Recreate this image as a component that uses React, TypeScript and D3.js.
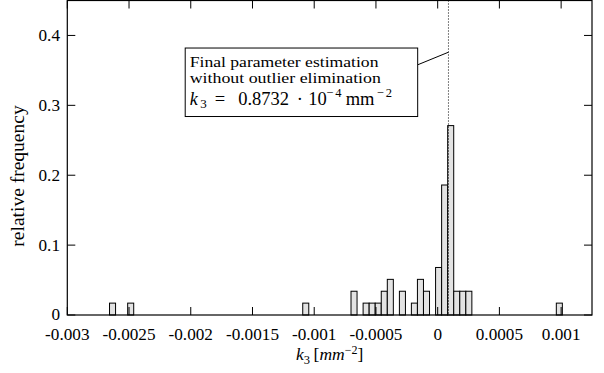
import React, { useEffect, useRef } from "react";
import * as d3 from "d3";

// histogram bins (left edge of each bin, in mm^-2) and relative frequencies
const binStarts = [
  -0.002658, -0.002511, -0.001093, -0.000702, -0.000604, -0.000555, -0.000506,
  -0.000457, -0.000408, -0.00031, -0.000213, -0.000164, -0.000115, -0.000017,
  0.000032, 0.000081, 0.00013, 0.000179, 0.000228, 0.000961
];
const frequencies = [
  0.017, 0.017, 0.017, 0.034, 0.017, 0.017, 0.017,
  0.034, 0.051, 0.034, 0.017, 0.051, 0.034, 0.068,
  0.186, 0.271, 0.034, 0.034, 0.034, 0.017
];
const binWidth = 0.0000489;

const xTicks = [-0.003, -0.0025, -0.002, -0.0015, -0.001, -0.0005, 0, 0.0005, 0.001];
const yTicks = [0, 0.1, 0.2, 0.3, 0.4];

const k3 = 0.00008732;
const annotationLines = ["Final parameter estimation", "without outlier elimination"];

const width = 604;
const height = 373;
const FONT = "Liberation Serif";

export default function App() {
  const svgRef = useRef<SVGSVGElement | null>(null);

  useEffect(() => {
    const svg = d3.select(svgRef.current);
    svg.selectAll("*").remove();
    svg.attr("font-family", FONT);

    const x = d3.scaleLinear().domain([-0.003, 0.00125]).range([67.3, 592]);
    const y = d3.scaleLinear().domain([0, 0.45]).range([315, 0.5]);
    const [x0, x1] = x.range();
    const [y0, y1] = y.range();
    const tick = 8;

    const data = binStarts.map((s, i) => ({ start: s, value: frequencies[i] }));

    // bars
    svg.append("g")
      .selectAll("rect")
      .data(data)
      .enter()
      .append("rect")
      .attr("x", (d) => x(d.start))
      .attr("y", (d) => y(d.value))
      .attr("width", (d) => x(d.start + binWidth) - x(d.start))
      .attr("height", (d) => y(0) - y(d.value))
      .attr("fill", "#e3e3e3")
      .attr("stroke", "#000")
      .attr("stroke-width", 1);

    // dotted line at the final estimate
    svg.append("line")
      .attr("x1", x(k3)).attr("x2", x(k3))
      .attr("y1", y1).attr("y2", y0)
      .attr("stroke", "#000")
      .attr("stroke-width", 1)
      .attr("stroke-dasharray", "1,2");

    // frame
    svg.append("rect")
      .attr("x", x0).attr("y", y1)
      .attr("width", x1 - x0).attr("height", y0 - y1)
      .attr("fill", "none")
      .attr("stroke", "#000")
      .attr("stroke-width", 1.2);

    // ticks (inward, mirrored)
    const g = svg.append("g").attr("stroke", "#000").attr("stroke-width", 1);
    xTicks.forEach((t) => {
      g.append("line").attr("x1", x(t)).attr("x2", x(t)).attr("y1", y0).attr("y2", y0 - tick);
      g.append("line").attr("x1", x(t)).attr("x2", x(t)).attr("y1", y1).attr("y2", y1 + tick);
    });
    yTicks.forEach((t) => {
      g.append("line").attr("x1", x0).attr("x2", x0 + tick).attr("y1", y(t)).attr("y2", y(t));
      g.append("line").attr("x1", x1).attr("x2", x1 - tick).attr("y1", y(t)).attr("y2", y(t));
    });

    // tick labels
    svg.append("g")
      .selectAll("text")
      .data(xTicks)
      .enter()
      .append("text")
      .attr("x", (d) => x(d))
      .attr("y", 339.5)
      .attr("text-anchor", "middle")
      .attr("font-size", 17.2)
      .text((d) => (d === 0 ? "0" : String(d)));

    svg.append("g")
      .selectAll("text")
      .data(yTicks)
      .enter()
      .append("text")
      .attr("x", 60)
      .attr("y", (d) => y(d) + (d === 0 ? 4.5 : 6))
      .attr("text-anchor", "end")
      .attr("font-size", 17.2)
      .text((d) => (d === 0 ? "0" : d.toFixed(1)));

    // axis titles
    const xl = svg.append("text")
      .attr("x", (x0 + x1) / 2)
      .attr("y", 359.5)
      .attr("text-anchor", "middle")
      .attr("font-size", 17.5);
    xl.append("tspan").attr("font-style", "italic").text("k");
    xl.append("tspan").attr("dy", 4).attr("font-size", 12.5).text("3");
    xl.append("tspan").attr("dy", -4).text("\u2009[");
    xl.append("tspan").attr("font-style", "italic").text("mm");
    xl.append("tspan").attr("dy", -5.5).attr("font-size", 12).text("\u22122");
    xl.append("tspan").attr("dy", 5.5).text("]");

    svg.append("text")
      .attr("transform", `translate(24, 176) rotate(-90)`)
      .attr("text-anchor", "middle")
      .attr("font-size", 19.5)
      .text("relative frequency");

    // annotation box
    const bx0 = x(-0.002045), bx1 = x(-0.000162);
    const by0 = y(0.382), by1 = y(0.284);
    svg.append("line")
      .attr("x1", bx1).attr("y1", y(0.358))
      .attr("x2", x(k3)).attr("y2", y(0.376))
      .attr("stroke", "#000").attr("stroke-width", 1);
    svg.append("rect")
      .attr("x", bx0).attr("y", by0)
      .attr("width", bx1 - bx0).attr("height", by1 - by0)
      .attr("fill", "#fff")
      .attr("stroke", "#000")
      .attr("stroke-width", 1);

    const tx = bx0 + 4.5;
    // text lines, widened horizontally like the wide roman face of the original
    annotationLines.forEach((line, i) => {
      svg.append("text")
        .attr("transform", `translate(${tx}, ${by0 + 19 + i * 15.5}) scale(${i === 0 ? 1.215 : 1.23}, 1)`)
        .attr("font-size", 14.5)
        .text(line);
    });

    // k3 = 0.8732 · 10^-4 mm^-2, laid out piece by piece (math spacing)
    const note = svg.append("text");
    const base = by0 + 56.5;
    const parts: [string, number, number, number, boolean][] = [
      // text, dx from box text start, baseline shift, size, italic
      ["k", 0, 0, 18, true],
      ["3", 10.5, 3.5, 13, false],
      ["=", 25, 0, 18.5, false],
      ["0.8732", 48.5, 0, 18.5, false],
      ["\u00b7", 107, 0, 18.5, false],
      ["10", 118.5, 0, 18.5, false],
      ["\u22124", 136.5, -7.5, 12.5, false],
      ["mm", 156, 0, 18.5, false],
      ["\u22122", 187, -7.5, 12.5, false]
    ];
    parts.forEach(([t, dx, dy, size, it]) => {
      note.append("tspan")
        .attr("x", tx + dx)
        .attr("y", base + dy)
        .attr("font-size", size)
        .attr("font-style", it ? "italic" : "normal")
        .attr("letter-spacing", t.startsWith("\u2212") ? 2 : 0)
        .text(t);
    });
  }, []);

  return (
    <svg
      ref={svgRef}
      width={width}
      height={height}
      style={{ position: "absolute", left: 0, top: 0, background: "#fff" }}
    />
  );
}
